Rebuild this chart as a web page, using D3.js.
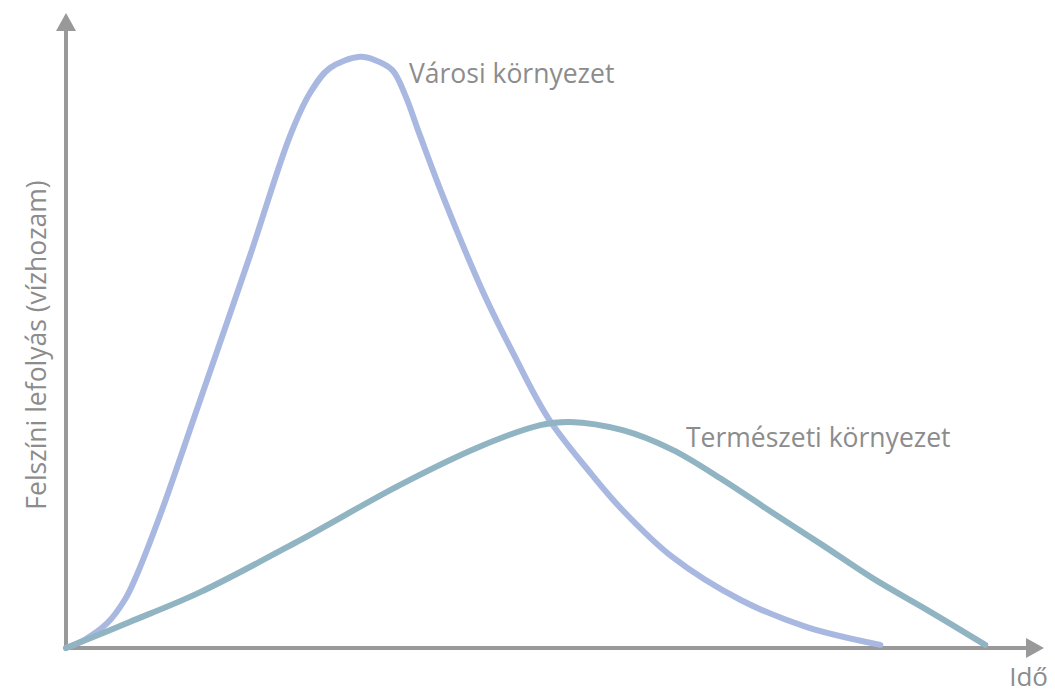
<!DOCTYPE html>
<html>
<head>
<meta charset="utf-8">
<script src="https://cdn.jsdelivr.net/npm/d3@7"></script>
<style>
  body { margin: 0; background: #fff; }
  text { font-family: "Open Sans", "Noto Sans", sans-serif; fill: #8c8c8c; }
</style>
</head>
<body>
<svg id="chart" width="1055" height="693"></svg>
<script>
// idő (0-100) és vízhozam (0-100)
var urbanTime  = [0, 1.9, 4.2, 6.0, 7.0, 9.6, 13.7, 18.8, 22.9, 24.9, 26.9, 30.0, 31.5, 33.3, 34.6, 36.1, 38.5, 42.6, 45.6, 49.2, 53.5, 56.8, 61.9, 68.8, 75.6, 83.1];
var urbanFlow  = [0, 1.3, 3.9, 7.6, 10.7, 20.9, 39.1, 61.9, 80.8, 87.4, 91.3, 93.1, 92.6, 91.0, 87.1, 80.8, 71.0, 55.9, 46.5, 36.2, 27.6, 21.7, 14.3, 7.6, 3.3, 0.5];
var naturalTime = [0, 6.5, 13.7, 23.9, 34.1, 42.2, 48.4, 51.4, 56.8, 61.9, 67.0, 72.1, 77.2, 82.3, 88.2, 93.8];
var naturalFlow = [0, 4.1, 8.8, 17.0, 25.7, 31.7, 35.1, 35.6, 34.3, 31.2, 26.5, 21.3, 16.2, 11.0, 5.7, 0.5];

var svg = d3.select("#chart");
var x = d3.scaleLinear().domain([0, 100]).range([66, 1046]);
var y = d3.scaleLinear().domain([0, 100]).range([648, 13]);

var axisColor = "#999999";

// tengelyek
svg.append("line")
  .attr("x1", x(0)).attr("y1", y(0) + 2)
  .attr("x2", x(0)).attr("y2", 28)
  .attr("stroke", axisColor).attr("stroke-width", 4);
svg.append("path")
  .attr("d", "M" + x(0) + ",13 L" + (x(0) - 10) + ",31 L" + (x(0) + 10) + ",31 Z")
  .attr("fill", axisColor);

svg.append("line")
  .attr("x1", x(0) - 2).attr("y1", y(0))
  .attr("x2", 1028).attr("y2", y(0))
  .attr("stroke", axisColor).attr("stroke-width", 4);
svg.append("path")
  .attr("d", "M1044," + y(0) + " L1026," + (y(0) - 10) + " L1026," + (y(0) + 10) + " Z")
  .attr("fill", axisColor);

var line = d3.line()
  .x(function(d) { return x(d[0]); })
  .y(function(d) { return y(d[1]); })
  .curve(d3.curveCatmullRom.alpha(0.5));

var urban = urbanTime.map(function(t, i) { return [t, urbanFlow[i]]; });
var natural = naturalTime.map(function(t, i) { return [t, naturalFlow[i]]; });

svg.append("path")
  .attr("d", line(urban))
  .attr("fill", "none")
  .attr("stroke", "#a9b8e0")
  .attr("stroke-width", 6)
  .attr("stroke-linecap", "round");

svg.append("path")
  .attr("d", line(natural))
  .attr("fill", "none")
  .attr("stroke", "#90b4c2")
  .attr("stroke-width", 6)
  .attr("stroke-linecap", "round");

// feliratok
svg.append("text").attr("x", 409).attr("y", 83)
  .style("font-size", "26.5px").text("Városi környezet");
svg.append("text").attr("x", 686).attr("y", 447)
  .style("font-size", "26.5px").text("Természeti környezet");
svg.append("text").attr("x", 1048).attr("y", 686)
  .attr("text-anchor", "end")
  .style("font-size", "26px").text("Idő");
svg.append("text")
  .attr("transform", "translate(46,345) rotate(-90)")
  .attr("text-anchor", "middle")
  .style("font-size", "26.5px").text("Felszíni lefolyás (vízhozam)");
</script>
</body>
</html>
